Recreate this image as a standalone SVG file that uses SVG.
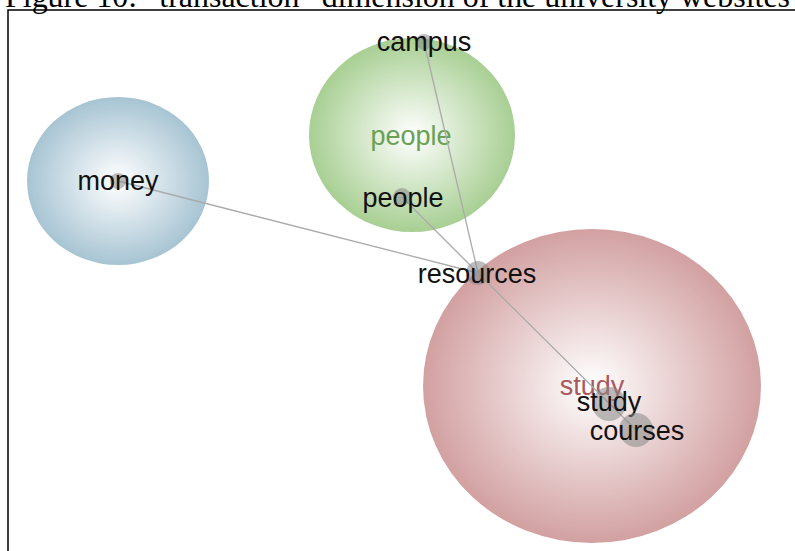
<svg xmlns="http://www.w3.org/2000/svg" width="795" height="551" viewBox="0 0 795 551">
<defs>
<radialGradient id="gBlue" cx="50%" cy="50%" r="50%"><stop offset="0" stop-color="#ffffff"/><stop offset="1" stop-color="#a7c4d3"/></radialGradient>
<radialGradient id="gGreen" cx="50%" cy="50%" r="50%"><stop offset="0" stop-color="#ffffff"/><stop offset="1" stop-color="#a8cf93"/></radialGradient>
<radialGradient id="gRed" cx="50%" cy="50%" r="50%"><stop offset="0" stop-color="#ffffff"/><stop offset="1" stop-color="#d2a0a1"/></radialGradient>
<style>
.lbl{font-family:"Liberation Sans",Arial,sans-serif;font-size:27px;fill:#111;text-anchor:middle}
.grp{font-family:"Liberation Sans",Arial,sans-serif;font-size:27px;text-anchor:middle}
.dot{fill:#888;fill-opacity:0.55}
.edge{stroke:#aaa;stroke-width:1.3;fill:none}
.cap{font-family:"Liberation Serif","Times New Roman",serif;font-size:32px;fill:#000}
</style>
</defs>
<rect width="795" height="551" fill="#fff"/>
<text class="cap" x="5" y="7" textLength="785" lengthAdjust="spacingAndGlyphs">Figure 10: “transaction” dimension of the university websites</text>
<path d="M8,551 V10 H795" fill="none" stroke="#000" stroke-width="1.5"/>
<g id="clusters">
<ellipse cx="118" cy="181" rx="91" ry="84" fill="url(#gBlue)"/>
<ellipse cx="412" cy="135" rx="103" ry="97" fill="url(#gGreen)"/>
<text class="grp" x="411" y="145" fill="#6aa154">people</text>
<ellipse cx="592" cy="386" rx="169" ry="157" fill="url(#gRed)"/>
<text class="grp" x="592" y="395" fill="#a85a5d">study</text>
</g>
<g id="connectors">
<line class="edge" x1="118" y1="181" x2="478" y2="273"/>
<line class="edge" x1="424" y1="42" x2="478" y2="273"/>
<line class="edge" x1="402" y1="197" x2="478" y2="273"/>
<line class="edge" x1="478" y1="273" x2="636" y2="430"/>
</g>
<g id="node-campus"><circle class="dot" cx="424" cy="42" r="8"/><text class="lbl" x="424" y="51">campus</text></g>
<g id="node-money"><circle class="dot" cx="118" cy="181" r="8"/><text class="lbl" x="118" y="190">money</text></g>
<g id="node-people"><circle class="dot" cx="402" cy="197" r="9"/><text class="lbl" x="403" y="207">people</text></g>
<g id="node-resources"><circle class="dot" cx="478" cy="273" r="12"/><text class="lbl" x="477" y="283">resources</text></g>
<g id="node-study"><circle class="dot" cx="609" cy="404" r="17"/><text class="lbl" x="609" y="411">study</text></g>
<g id="node-courses"><circle class="dot" cx="636" cy="430" r="17"/><text class="lbl" x="637" y="440">courses</text></g>
</svg>
